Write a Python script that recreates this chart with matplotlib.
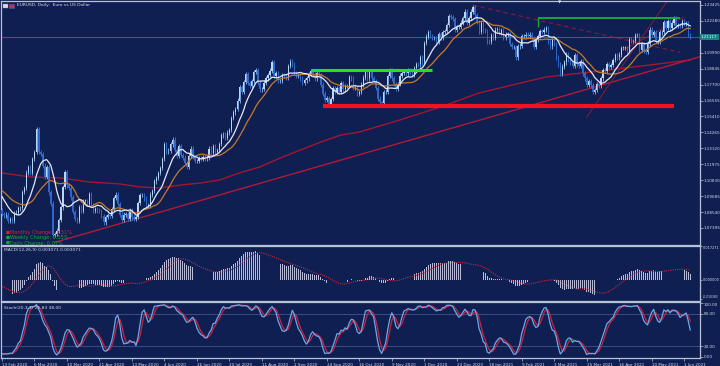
import numpy as np
import pandas as pd
import matplotlib
matplotlib.use("Agg")
import matplotlib.pyplot as plt
from matplotlib.patches import Rectangle

# EURUSD daily closes in pips (x 0.0001), 13 Feb 2020 .. 4 Jun 2021
close_pips = [
    10840, 10830,
    10835, 10790, 10805, 10790, 10846,
    10850, 10880, 10883, 10997, 11026,
    11138, 11175, 11136, 11237, 11284,
    11450, 11284, 11270, 11188, 11106,
    11175, 10995, 10915, 10690, 10695,
    10720, 10795, 10888, 11035, 11140,
    11045, 11030, 10960, 10855, 10805,
    10793, 10890, 10860, 10935, 10935,
    10915, 10985, 10905, 10865, 10875,
    10865, 10860, 10825, 10780, 10820,
    10830, 10825, 10875, 10955, 10980,
    10910, 10835, 10795, 10835, 10840,
    10805, 10865, 10815, 10805, 10820,
    10920, 10975, 10975, 10950, 10900,
    10900, 10980, 11005, 11075, 11100,
    11135, 11170, 11235, 11340, 11290,
    11295, 11340, 11375, 11300, 11255,
    11330, 11265, 11245, 11205, 11180,
    11260, 11310, 11250, 11220, 11220,
    11240, 11235, 11250, 11240, 11245,
    11310, 11275, 11330, 11285, 11300,
    11345, 11405, 11410, 11385, 11425,
    11445, 11530, 11570, 11595, 11655,
    11750, 11715, 11790, 11845, 11780,
    11760, 11795, 11860, 11875, 11785,
    11735, 11740, 11785, 11815, 11840,
    11870, 11930, 11835, 11855, 11795,
    11795, 11835, 11830, 11820, 11905,
    11935, 11915, 11855, 11830, 11835,
    11815, 11780, 11800, 11815, 11845,
    11865, 11845, 11815, 11850, 11840,
    11770, 11705, 11660, 11675, 11630,
    11665, 11745, 11720, 11745, 11715,
    11780, 11735, 11760, 11760, 11825,
    11815, 11745, 11745, 11705, 11715,
    11770, 11820, 11865, 11815, 11860,
    11815, 11795, 11745, 11670, 11645,
    11640, 11715, 11720, 11830, 11875,
    11815, 11775, 11740, 11775, 11835,
    11855, 11865, 11850, 11875, 11855,
    11840, 11890, 11920, 11915, 11965,
    11930, 12070, 12115, 12145, 12120,
    12105, 12105, 12080, 12135, 12110,
    12150, 12155, 12200, 12265, 12255,
    12240, 12165, 12185, 12185,
    12215, 12250, 12295, 12215,
    12250, 12295, 12325, 12270, 12220,
    12150, 12210, 12160, 12155, 12080,
    12075, 12125, 12105, 12165, 12170,
    12140, 12160, 12110, 12130, 12135,
    12060, 12040, 12040, 11965, 12045,
    12050, 12120, 12120, 12130, 12120,
    12130, 12105, 12040, 12090, 12120,
    12155, 12150, 12165, 12175, 12075,
    12045, 12090, 12060, 11965, 11915,
    11845, 11900, 11930, 11985, 11950,
    11930, 11905, 11980, 11915, 11905,
    11935, 11850, 11815, 11770, 11795,
    11765, 11715, 11730, 11775, 11765,
    11815, 11875, 11870, 11915, 11900,
    11910, 11945, 11980, 11965, 11985,
    12035, 12035, 12035, 12015, 12095,
    12085, 12085, 12125, 12125, 12020,
    12060, 12015, 12005, 12065, 12165,
    12130, 12150, 12075, 12080, 12145,
    12150, 12220, 12175, 12225, 12180,
    12215, 12250, 12190, 12195, 12190,
    12225, 12210, 12210, 12125, 12112,
]

# closes before the first visible bar (Dec 2019 .. 12 Feb 2020), for the indicators
warmup_pips = [
    11080, 11082, 11080, 11105, 11060,
    11065, 11093, 11130, 11130, 11120,
    11145, 11150, 11112, 11120, 11078,
    11090, 11090, 11100, 11180,
    11200, 11215,
    11172, 11160,
    11195, 11150, 11105, 11105, 11120,
    11135, 11130, 11150, 11135, 11090,
    11095, 11085, 11090, 11055, 11025,
    11020, 11020, 11010, 11035, 11090,
    11060, 11045, 10995, 10980, 10945,
    10910, 10915, 10870,
]

# long moving average (bar index, price)
ma_long_idx = [0, 14, 29, 43, 58, 68, 78, 88, 98, 107, 117, 127, 137, 147,
               157, 167, 176, 196, 216, 235, 268, 295, 319, 339]
ma_long_val = [1.1135, 1.1106, 1.1099, 1.1070, 1.1056, 1.1034, 1.1027, 1.1048,
               1.1063, 1.1084, 1.1135, 1.1178, 1.1242, 1.1300, 1.1357, 1.1408,
               1.1429, 1.1516, 1.1609, 1.1710, 1.1825, 1.1868, 1.1911, 1.1947]

# drawn objects (bar index, price)
trend_idx, trend_val = [26, 339], [1.0636, 1.1950]
dash_idx, dash_val = [232, 334], [1.2340, 1.2002]
chan_a_idx, chan_a_val = [288, 328], [1.1537, 1.2378]
chan_b_idx, chan_b_val = [306, 336], [1.2019, 1.2256]
green_low = [152, 212, 1.1875]
green_high = [264, 334, 1.2249, 1.2184]
red_support = [158, 331, 1.1616]
last_price = 1.21117

price_ticks = [1.07395 + k * 0.01145 for k in range(15)]
macd_ticks = [0.017271, 0.0, -0.010383]
stoch_ticks = [100, 80, 20, 0]

# ---------------------------------------------------------------
dates = pd.bdate_range("2020-02-13", "2021-06-04")
dates = dates[~dates.isin(pd.to_datetime(["2020-12-25", "2021-01-01"]))]

n = len(close_pips)
nw = len(warmup_pips)
allc = pd.Series(np.array(warmup_pips + close_pips) / 10000.0)
opens_all = allc.shift(1).bfill()
wick = 0.0016
highs_all = np.maximum(opens_all, allc) + wick
lows_all = np.minimum(opens_all, allc) - wick

sma_fast = allc.rolling(10, min_periods=1).mean().values[nw:]
sma_mid = allc.rolling(20, min_periods=1).mean().values[nw:]

ema12 = allc.ewm(span=12, adjust=False).mean()
ema26 = allc.ewm(span=26, adjust=False).mean()
macd = ema12 - ema26
macd_sig = macd.rolling(9, min_periods=1).mean()
macd, macd_sig = macd.values[nw:], macd_sig.values[nw:]

hh = pd.Series(highs_all).rolling(20, min_periods=1).max()
ll = pd.Series(lows_all).rolling(20, min_periods=1).min()
num = (allc - ll).rolling(3, min_periods=1).sum()
den = (hh - ll).rolling(3, min_periods=1).sum()
stoch_k = 100 * num / den
stoch_d = stoch_k.rolling(3, min_periods=1).mean()
stoch_k, stoch_d = stoch_k.values[nw:], stoch_d.values[nw:]

c = allc.values[nw:]
o = opens_all.values[nw:]
h = highs_all[nw:].values
l = lows_all[nw:].values
x = np.arange(n)

BG = "#101f52"
FG = "#d4dae8"
BORDER = "#b9c1d6"

fig = plt.figure(figsize=(7.2, 3.66), dpi=100, facecolor=BG)


def px_axes(left, top, right, bottom):
    return fig.add_axes([left / 720, 1 - bottom / 366, (right - left) / 720, (bottom - top) / 366])


ax = px_axes(1, 1, 700, 245)
axm = px_axes(1, 246, 700, 301)
axs = px_axes(1, 302, 700, 358)

for a in (ax, axm, axs):
    a.set_facecolor(BG)
    a.set_xlim(-0.5, 343.8)
    for s in a.spines.values():
        s.set_color(BORDER)
        s.set_linewidth(0.9)
    a.yaxis.tick_right()
    a.tick_params(axis="y", colors=BORDER, labelcolor=FG, labelsize=3.0, length=1.8, width=0.5, pad=1)
    a.tick_params(axis="x", bottom=False, labelbottom=False)

# ---- main price panel
ax.set_ylim(1.0617, 1.2371)
ax.set_yticks(price_ticks)
# the 1.21135 label is covered by the current price box
ax.set_yticklabels(["" if abs(v - last_price) < 0.002 else f"{v:.5f}" for v in price_ticks])

bull = c >= o
wick_col = np.where(bull, "#8fbaf0", "#3a78dc")
body_col = np.where(bull, "#bcd6f6", "#2a66cc")
ax.vlines(x, l, h, colors=wick_col, linewidth=0.6, zorder=3)
body_lo = np.minimum(o, c)
body_h = np.maximum(np.abs(c - o), 0.0002)
ax.bar(x, body_h, bottom=body_lo, width=0.6, color=body_col, linewidth=0, zorder=4)

ax.plot(x, sma_mid, color="#c57a2a", lw=0.9, zorder=5)
ax.plot(x, sma_fast, color="#e6e8f2", lw=0.9, zorder=6)
ax.plot(ma_long_idx, ma_long_val, color="#a3162f", lw=1.0, zorder=2)

slope = (trend_val[1] - trend_val[0]) / (trend_idx[1] - trend_idx[0])
ax.plot([trend_idx[0], 344], [trend_val[0], trend_val[0] + slope * (344 - trend_idx[0])],
        color="#b01a36", lw=1.0, zorder=2)
ax.plot(dash_idx, dash_val, color="#8c1a32", lw=0.8, ls=(0, (4, 3)), zorder=2)
ax.plot(chan_a_idx, chan_a_val, color="#8c1a32", lw=0.7, zorder=2)
ax.plot(chan_b_idx, chan_b_val, color="#8c1a32", lw=0.7, zorder=2)

ax.hlines(green_low[2], green_low[0], green_low[1], color="#1ee61e", lw=2.2, zorder=7)
ax.hlines(green_high[2], green_high[0], green_high[1], color="#18a83a", lw=1.4, zorder=7)
ax.vlines(green_high[0], green_high[3], green_high[2], color="#18a83a", lw=1.0, zorder=7)
ax.hlines(red_support[2], red_support[0], red_support[1], color="#f0141e", lw=3.0, zorder=7)
ax.axhline(last_price, color="#1d6a7e", lw=0.8, zorder=1)

ax.text(16 / 699, 0.984, "EURUSD, Daily:  Euro vs US Dollar", transform=ax.transAxes,
        color=FG, fontsize=3.2, va="center", ha="left")
fig.add_artist(Rectangle((3 / 720, 1 - 8 / 366), 5 / 720, 4 / 366, transform=fig.transFigure,
                         facecolor="#d8dce6", edgecolor="#8890a8", lw=0.3))
fig.add_artist(Rectangle((9 / 720, 1 - 8 / 366), 5 / 720, 4 / 366, transform=fig.transFigure,
                         facecolor="#c8304a", edgecolor="#4060c0", lw=0.4))

changes = [("Monthly Change: -0.51%", "#e0202a"),
           ("Weekly Change: 0.55%", "#1ea83a"),
           ("Daily Change: 0.07%", "#1ea83a")]
for k, (txt, col) in enumerate(changes):
    yy = 0.050 - k * 0.021
    ax.text(0.006, yy, "\u25a0", transform=ax.transAxes, color=col, fontsize=3.0, va="center")
    ax.text(0.013, yy, txt, transform=ax.transAxes, color=col, fontsize=3.6, va="center")

fig.text(701 / 720, 1 - 37 / 366, f"{last_price:.5f}", color="#e8f4f4", fontsize=3.0,
         va="center", ha="left",
         bbox=dict(boxstyle="square,pad=0.3", facecolor="#1f8088", edgecolor="none"))
fig.text(560 / 720, 1 - 2 / 366, "\u25bc", color="#e0e4ee", fontsize=3.0, ha="center", va="center")

# ---- MACD panel
axm.set_ylim(-0.0112, 0.0175)
axm.set_yticks(macd_ticks)
axm.set_yticklabels([f"{v:.6f}" for v in macd_ticks])
axm.tick_params(axis="y", labelsize=2.5, length=1.2, pad=0.6)
for lbl, va in zip(axm.get_yticklabels(), ["top", "center", "bottom"]):
    lbl.set_va(va)
axm.get_yticklabels()[2].set_fontsize(2.2)
axm.bar(x, macd, width=0.35, color="#b8bcd8", linewidth=0)
axm.plot(x, macd_sig, color="#c8283c", lw=0.8, ls=(0, (1, 1)))
axm.text(0.004, 0.92, "MACD(12,26,9) 0.003071 0.003071", transform=axm.transAxes,
         color=FG, fontsize=3.2, va="center")

# ---- Stochastic panel
axs.set_ylim(-2, 102)
axs.set_yticks(stoch_ticks)
axs.set_yticklabels([f"{v:.2f}" for v in stoch_ticks])
axs.get_yticklabels()[0].set_va("top")
axs.axhline(80, color="#42548c", lw=0.6)
axs.axhline(20, color="#42548c", lw=0.6)
axs.plot(x, stoch_d, color="#d0203a", lw=0.9)
axs.plot(x, stoch_k, color="#6ea8e6", lw=0.9)
axs.text(0.004, 0.90, "Stoch(20,3,3) 25.83 38.00", transform=axs.transAxes,
         color=FG, fontsize=3.2, va="center")

tick_pos = list(range(0, n, 16))
axs.set_xticks(tick_pos)
axs.set_xticklabels([f"{dates[i].day} {dates[i]:%b %Y}" for i in tick_pos])
axs.tick_params(axis="x", bottom=True, labelbottom=True, colors=BORDER, labelcolor=FG,
                labelsize=3.0, length=2.5, width=0.5, pad=1)
for lbl in axs.get_xticklabels():
    lbl.set_ha("left")

fig.savefig("out.png", dpi=100, facecolor=fig.get_facecolor())
